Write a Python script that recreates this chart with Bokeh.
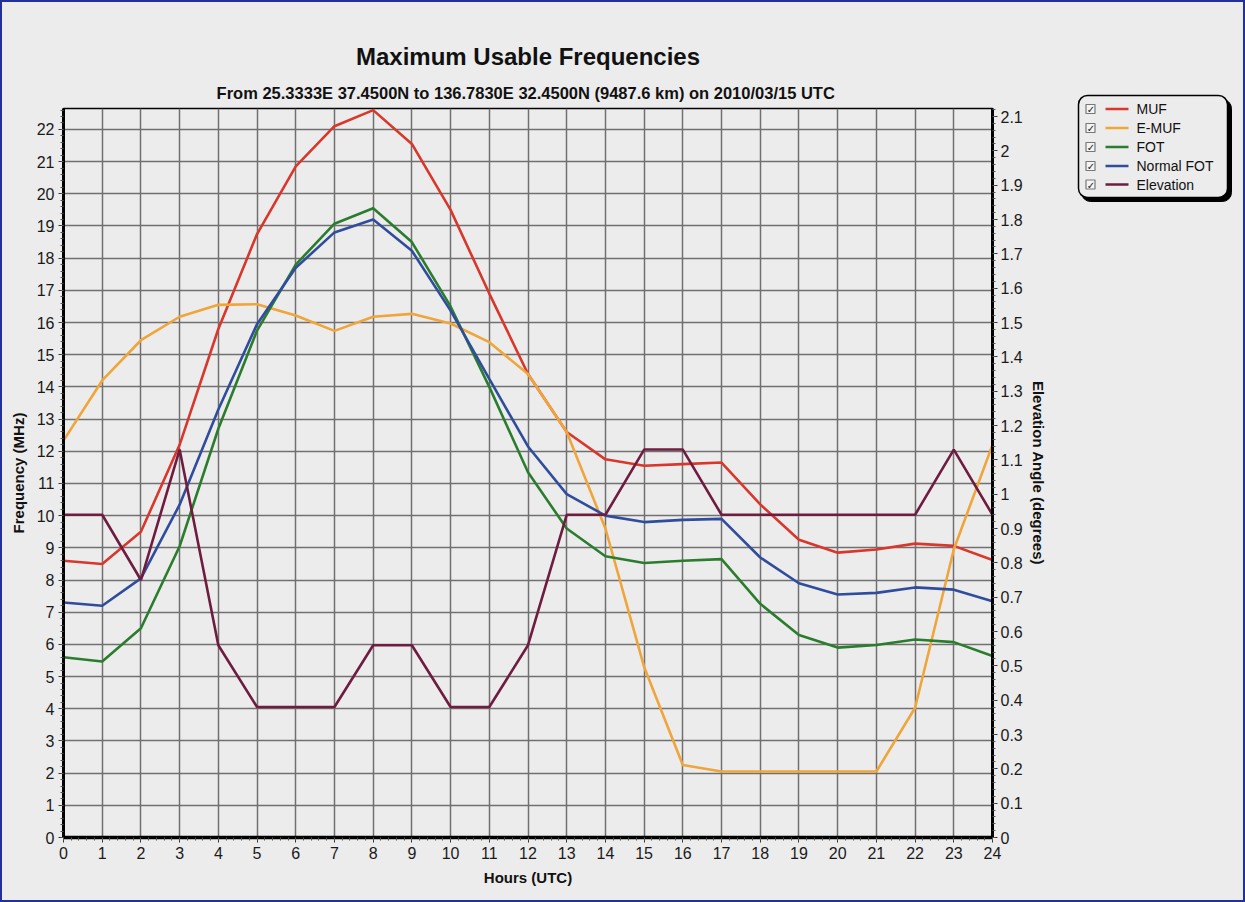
from bokeh.plotting import figure
from bokeh.layouts import row
from bokeh.models import (Range1d, LinearAxis, SingleIntervalTicker, FixedTicker,
                          Title, CustomJSTickFormatter)
from bokeh.core.properties import value
from bokeh.embed import file_html
from bokeh.resources import INLINE

# ---------------- data ----------------
hours = list(range(25))
muf = [8.6, 8.5, 9.5, 12.2, 15.8, 18.75, 20.85, 22.1, 22.6, 21.55, 19.5, 16.9, 14.4,
       12.6, 11.75, 11.55, 11.6, 11.65, 10.35, 9.25, 8.85, 8.95, 9.13, 9.06, 8.62]
emuf = [12.33, 14.2, 15.45, 16.18, 16.55, 16.57, 16.22, 15.74, 16.18, 16.27, 15.97, 15.39, 14.4,
        12.6, 9.6, 5.3, 2.25, 2.05, 2.05, 2.05, 2.05, 2.05, 4.03, 8.95, 12.2]
fot = [5.6, 5.47, 6.5, 9.05, 12.7, 15.75, 17.8, 19.07, 19.55, 18.5, 16.5, 14.0, 11.35,
       9.6, 8.74, 8.53, 8.6, 8.65, 7.26, 6.29, 5.9, 5.98, 6.15, 6.07, 5.64]
normal_fot = [7.3, 7.2, 8.05, 10.34, 13.3, 15.95, 17.7, 18.8, 19.2, 18.23, 16.37, 14.25, 12.15,
              10.67, 10.0, 9.8, 9.87, 9.9, 8.7, 7.9, 7.55, 7.6, 7.77, 7.7, 7.34]
elevation = [0.94, 0.94, 0.75, 1.13, 0.56, 0.38, 0.38, 0.38, 0.56, 0.56, 0.38, 0.38, 0.56,
             0.94, 0.94, 1.13, 1.13, 0.94, 0.94, 0.94, 0.94, 0.94, 0.94, 1.13, 0.94]
series_names = ["MUF", "E-MUF", "FOT", "Normal FOT", "Elevation"]
title_text = "Maximum Usable Frequencies"
subtitle_text = "From  25.3333E 37.4500N to 136.7830E 32.4500N (9487.6 km) on 2010/03/15 UTC"
freq_max = 22.65
elev_max = 2.1234
elev_ticks = [round(i * 0.1, 1) for i in range(22)]

# ---------------- style ----------------
BG = "#ececec"
EDGE = "#22309a"
FONT = "Liberation Sans"
colors = ["#d9372c", "#f0a53a", "#2b7d2e", "#2f4d9c", "#6e1c3f"]

p = figure(width=1070, height=902, output_backend="svg", toolbar_location=None,
           x_range=Range1d(0, 24), y_range=Range1d(0, freq_max), title=None,
           min_border_left=61, min_border_right=80, min_border_top=106, min_border_bottom=67,
           background_fill_color=BG, border_fill_color=BG)
p.frame_align = False
p.extra_y_ranges = {"elev": Range1d(0, elev_max)}
p.styles = {"border-left": f"2px solid {EDGE}", "border-top": f"2px solid {EDGE}",
            "border-bottom": f"2px solid {EDGE}", "background-color": BG}

p.outline_line_color = "black"
p.outline_line_width = 1.5

def style_axis(ax):
    ax.axis_line_color = "black"
    ax.axis_line_width = 3
    ax.major_tick_in = 0
    ax.major_tick_out = 5
    ax.minor_tick_in = 0
    ax.minor_tick_out = 3
    ax.major_tick_line_color = "#333"
    ax.minor_tick_line_color = "#555"
    ax.major_label_text_font = FONT
    ax.major_label_text_font_size = "16px"
    ax.major_label_text_color = "#1a1a1a"
    ax.major_label_standoff = 4
    ax.axis_label_text_font = FONT
    ax.axis_label_text_font_style = "bold"
    ax.axis_label_text_font_size = "15px"
    ax.axis_label_text_color = "#111"

for ax in (p.xaxis[0], p.yaxis[0]):
    ax.ticker = SingleIntervalTicker(interval=1, num_minor_ticks=5)
    style_axis(ax)

p.xaxis.axis_label = "Hours (UTC)"
p.xaxis.axis_line_width = 3.5
p.xaxis.axis_label_standoff = 7
p.yaxis.axis_label = "Frequency (MHz)"
p.yaxis.axis_label_standoff = 7

minor_el = [round(i * 0.02, 2) for i in range(107)]
rax = LinearAxis(y_range_name="elev", axis_label="Elevation Angle (degrees)",
                 ticker=FixedTicker(ticks=elev_ticks, minor_ticks=minor_el),
                 formatter=CustomJSTickFormatter(code="return Number(tick.toFixed(1)).toString();"))
style_axis(rax)
rax.major_label_standoff = 3
rax.axis_label_standoff = 4
p.add_layout(rax, "right")

p.xgrid.grid_line_color = "#707070"
p.xgrid.grid_line_width = 1.5
p.ygrid.grid_line_color = "#707070"
p.ygrid.grid_line_width = 1.5

for vals, col in zip([muf, emuf, fot, normal_fot], colors[:4]):
    p.line(hours, vals, line_color=col, line_width=2.6)
p.line(hours, elevation, line_color=colors[4], line_width=2.6, y_range_name="elev")

sub = Title(text=subtitle_text, align="center", text_font=FONT, text_font_style="bold",
            text_font_size="16.5px", text_color="#111", standoff=13)
p.add_layout(sub, "above")
main = Title(text=title_text, align="center", text_font=FONT, text_font_style="bold",
             text_font_size="24px", text_color="#111", standoff=12, offset=8)
p.add_layout(main, "above")

# ---------------- legend panel ----------------
q = figure(width=175, height=902, output_backend="svg", toolbar_location=None, title=None,
           x_range=Range1d(0, 175), y_range=Range1d(902, 0),
           min_border=0, background_fill_color=BG, border_fill_color=BG)
q.frame_align = False
q.axis.visible = False
q.grid.visible = False
q.outline_line_color = None
q.styles = {"border-right": f"2px solid {EDGE}", "border-top": f"2px solid {EDGE}",
            "border-bottom": f"2px solid {EDGE}", "background-color": BG}

row_y = [106.5, 125.5, 144.5, 163.5, 182]
q.quad(left=[11], right=[161], top=[97], bottom=[199], fill_color="black", line_color="black",
       border_radius=9)
q.quad(left=[8], right=[157], top=[93], bottom=[195], fill_color=BG, line_color="black", line_width=1.5,
       border_radius=9)
q.rect(x=[20] * 5, y=row_y, width=9, height=9, fill_color="#f4f4f4", line_color="#777", line_width=1.2)
q.text(x=[20.5] * 5, y=[yy + 0.5 for yy in row_y], text=["\u2713"] * 5, text_font=value("DejaVu Sans"),
       text_font_size="10px", text_color="#222", text_align="center", text_baseline="middle")
q.segment(x0=[35] * 5, y0=row_y, x1=[58] * 5, y1=row_y, line_color=colors, line_width=2.5)
q.text(x=[66] * 5, y=row_y, text=series_names, text_font=value(FONT), text_font_size="14px",
       text_color="#111", text_baseline="middle")

layout = row(p, q)
layout.styles = {"background-color": BG}

open("out.html", "w").write(file_html(layout, INLINE))
